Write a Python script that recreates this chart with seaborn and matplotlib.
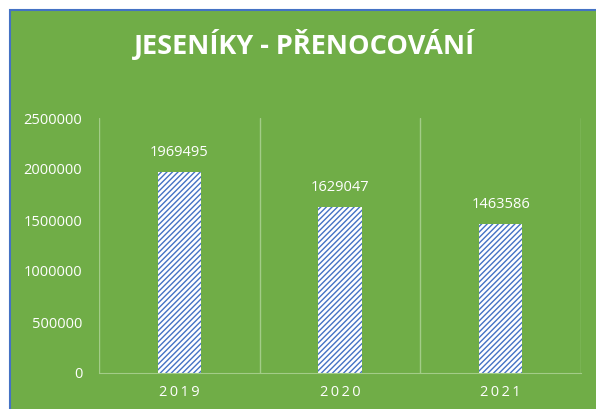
import matplotlib.pyplot as plt
import matplotlib.patches as mpatches
import pandas as pd
import seaborn as sns

years = ["2019", "2020", "2021"]
nights = [1969495, 1629047, 1463586]
title = "JESENÍKY - PŘENOCOVÁNÍ"

green = "#70AD47"
blue = "#4472C4"
grid_col = "#A3CC88"

df = pd.DataFrame({"rok": years, "pocet": nights})

sns.set_style("white")
plt.rcParams["font.family"] = ["Open Sans", "DejaVu Sans"]
plt.rcParams["hatch.linewidth"] = 1.0

fig = plt.figure(figsize=(5.96, 4.09), dpi=100)
fig.patch.set_facecolor("white")
# green chart area with blue outline
bg = mpatches.Rectangle((10 / 596, -0.05), 1.0, 1.05 - 10 / 409, transform=fig.transFigure,
                        facecolor=green, edgecolor=blue, linewidth=1.5, zorder=-5)
fig.patches.append(bg)

ax = fig.add_axes([99 / 596, 1 - 373 / 409, (581 - 99) / 596, (373 - 118) / 409])
ax.set_facecolor("none")
ax.set_zorder(2)

sns.barplot(data=df, x="rok", y="pocet", ax=ax, color="white", edgecolor=blue,
            linewidth=0, hatch="//////", width=0.27)

for i, v in enumerate(nights):
    ax.annotate(str(v), (i, v), xytext=(0, 14), textcoords="offset points",
                ha="center", va="center", color="white", fontsize=10.5)

ax.set_ylim(0, 2500000)
ax.set_yticks(range(0, 2500001, 500000))
ax.set_yticklabels([str(t) for t in range(0, 2500001, 500000)], color="white", fontsize=10.5)
ax.set_xlim(-0.5, 2.5)
ax.set_xticks(range(len(years)))
# spaced-out year labels like the original
ax.set_xticklabels(["\u2009".join(y) for y in years], color="white", fontsize=10.5)
ax.set_xticks([-0.5, 0.5, 1.5, 2.5], minor=True)
ax.grid(which="minor", axis="x", color=grid_col, linewidth=1)
ax.tick_params(axis="both", which="both", length=0)
ax.tick_params(axis="y", pad=12)
ax.tick_params(axis="x", pad=9)
ax.set_xlabel("")
ax.set_ylabel("")
for s in ["top", "right", "left"]:
    ax.spines[s].set_visible(False)
ax.spines["bottom"].set_color(grid_col)

fig.text(304 / 596, 1 - 45 / 409, title, ha="center", va="center", color="white",
         fontsize=19.5, fontweight="bold")

fig.savefig("out.png", dpi=100, facecolor=fig.get_facecolor())
